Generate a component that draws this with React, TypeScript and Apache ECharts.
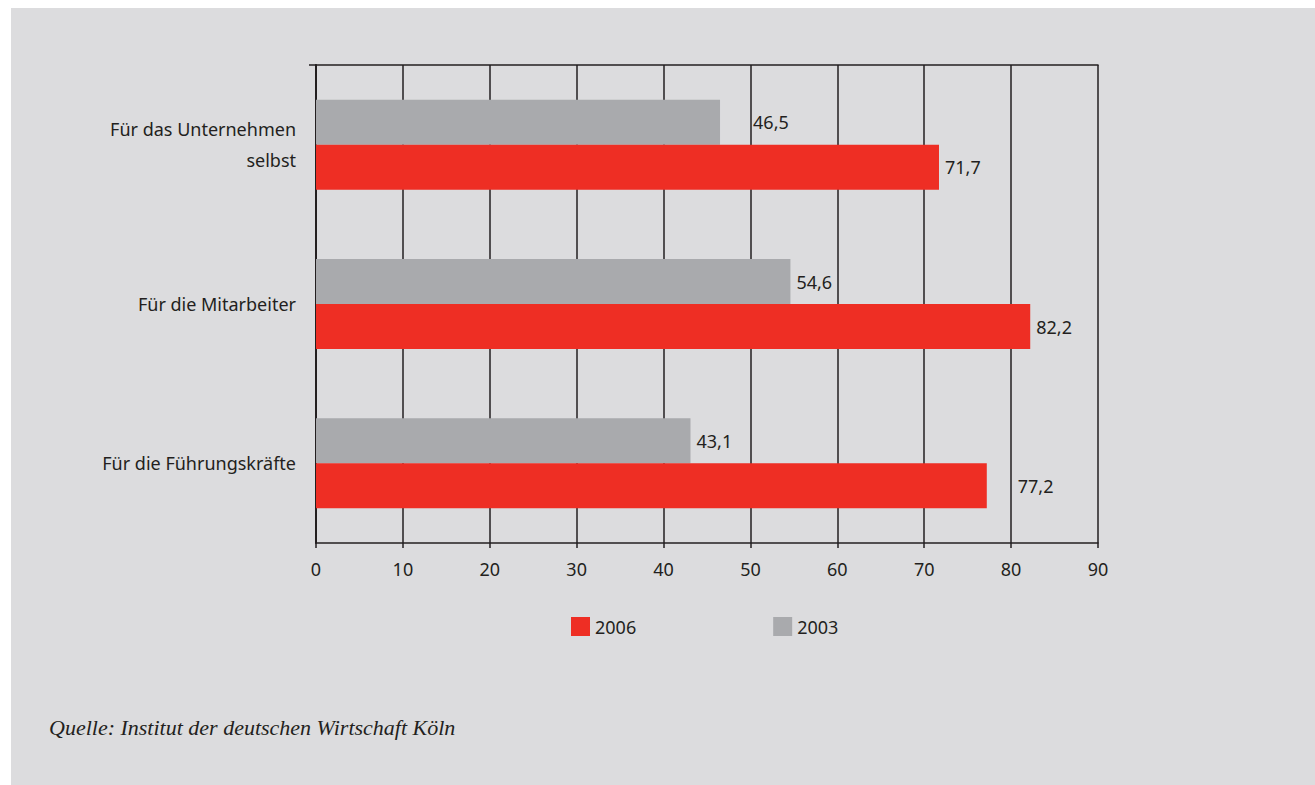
import React, { useEffect, useRef } from "react";
import * as echarts from "echarts";

// Categories listed bottom to top along the value axis
const categories = [
  "Für die Führungskräfte",
  "Für die Mitarbeiter",
  "Für das Unternehmen\nselbst",
];
const values2006 = [77.2, 82.2, 71.7];
const values2003 = [43.1, 54.6, 46.5];
const xTicks = [0, 10, 20, 30, 40, 50, 60, 70, 80, 90];
const seriesNames = ["2006", "2003"];
const sourceText = "Quelle: Institut der deutschen Wirtschaft Köln";

const RED = "#ee2e24";
const GRAY = "#a9aaad";
const INK = "#231f20";
const SANS = "'Noto Sans', 'Open Sans', sans-serif";

// a few value labels sit further from their bar end
const labelShift2006 = [25, 0, 0];
const labelShift2003 = [0, 0, 27];

export default function App() {
  const ref = useRef<HTMLDivElement>(null);

  useEffect(() => {
    if (!ref.current) return;
    const chart = echarts.init(ref.current, null, { renderer: "svg" });

    const mkData = (vals: number[], shifts: number[]) =>
      vals.map((v, i) => ({
        value: v,
        label: { offset: [shifts[i], 0] },
      }));

    const fmt = (p: any) => String(p.value).replace(".", ",");

    const valueLabel = {
      show: true,
      position: "right",
      distance: 6,
      formatter: fmt,
      fontFamily: SANS,
      fontSize: 18,
      color: INK,
    };

    chart.setOption({
      animation: false,
      backgroundColor: "transparent",
      graphic: [
        {
          type: "rect",
          z: -10,
          shape: { x: 11, y: 8, width: 1304, height: 777 },
          style: { fill: "#dcdcde" },
        },
        {
          type: "line",
          z: 10,
          shape: { x1: 309, y1: 65, x2: 316, y2: 65 },
          style: { stroke: INK, lineWidth: 1.5 },
        },
        {
          type: "text",
          left: 49,
          top: 716,
          style: {
            text: sourceText,
            font: "italic 22px 'Liberation Serif', serif",
            fill: INK,
          },
        },
      ],
      grid: { left: 316, right: 217, top: 65, bottom: 242 },
      legend: {
        left: 566,
        top: 612,
        itemWidth: 19,
        itemHeight: 19,
        itemGap: 137,
        icon: "rect",
        textStyle: { fontFamily: SANS, fontSize: 18, color: INK },
        data: seriesNames,
      },
      xAxis: [
        {
          type: "value",
          min: 0,
          max: 90,
          interval: 10,
          axisLine: { show: true, lineStyle: { color: INK, width: 1.5 } },
          axisTick: { show: true, length: 5, lineStyle: { color: INK, width: 1.5 } },
          splitLine: { show: true, lineStyle: { color: INK, width: 1.5 } },
          axisLabel: {
            fontFamily: SANS,
            fontSize: 18,
            color: INK,
            margin: 17,
            formatter: (v: number) => (xTicks.includes(v) ? String(v) : ""),
          },
        },
        {
          type: "value",
          position: "top",
          min: 0,
          max: 90,
          interval: 10,
          axisLine: { show: true, lineStyle: { color: INK, width: 1.5 } },
          axisTick: { show: false },
          splitLine: { show: false },
          axisLabel: { show: false },
        },
      ],
      yAxis: {
        type: "category",
        data: categories,
        axisLine: { show: true, lineStyle: { color: INK, width: 2 } },
        axisTick: { show: false },
        axisLabel: {
          fontFamily: SANS,
          fontSize: 18,
          color: INK,
          margin: 20,
          lineHeight: 31,
          align: "right",
        },
      },
      series: [
        {
          name: seriesNames[1],
          type: "bar",
          xAxisIndex: 0,
          data: mkData(values2003, labelShift2003),
          barWidth: 45,
          barGap: "0%",
          itemStyle: { color: GRAY },
          label: valueLabel,
        },
        {
          name: seriesNames[0],
          type: "bar",
          xAxisIndex: 0,
          data: mkData(values2006, labelShift2006),
          barWidth: 45,
          barGap: "0%",
          itemStyle: { color: RED },
          label: valueLabel,
        },
      ],
    });

    return () => chart.dispose();
  }, []);

  return (
    <div
      ref={ref}
      style={{ position: "fixed", left: 0, top: 0, width: 1315, height: 785, background: "#ffffff" }}
    />
  );
}
